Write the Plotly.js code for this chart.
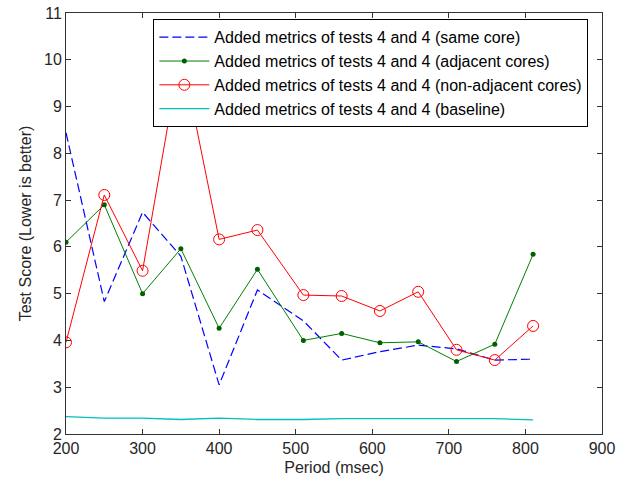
<!DOCTYPE html>
<html>
<head>
<meta charset="utf-8">
<script src="https://cdn.plot.ly/plotly-3.0.1.min.js"></script>
<style>html,body{margin:0;padding:0;background:#fff;}#chart{width:626px;height:483px;}</style>
</head>
<body>
<div id="chart"></div>
<script>
// Period (msec)
const periods = [200, 250, 300, 350, 400, 450, 510, 560, 610, 660, 710, 760, 810];
// Test scores (lower is better)
const sameCore = [8.44, 4.83, 6.74, 5.80, 3.05, 5.08, 4.42, 3.58, 3.76, 3.90, 3.82, 3.58, 3.60];
const adjacentCores = [6.10, 6.90, 5.00, 5.96, 4.26, 5.52, 4.00, 4.15, 3.95, 3.97, 3.55, 3.92, 5.84];
const nonAdjacentCores = [3.96, 7.11, 5.49, 10.2, 6.16, 6.36, 4.97, 4.95, 4.63, 5.04, 3.80, 3.58, 4.31];
const baseline = [2.37, 2.34, 2.34, 2.31, 2.34, 2.31, 2.31, 2.33, 2.33, 2.33, 2.33, 2.33, 2.30];
const seriesNames = [
  "Added metrics of tests 4 and 4 (same core)",
  "Added metrics of tests 4 and 4 (adjacent cores)",
  "Added metrics of tests 4 and 4 (non-adjacent cores)",
  "Added metrics of tests 4 and 4 (baseline)"
];
const xTicks = [200, 300, 400, 500, 600, 700, 800, 900];
const yTicks = [2, 3, 4, 5, 6, 7, 8, 9, 10, 11];

const traces = [
  {x: periods, y: sameCore, name: seriesNames[0], legendgroup: "a", mode: "lines",
   line: {color: "#0000ff", width: 1.2, dash: "9px,4px"}},
  {x: periods, y: adjacentCores, name: seriesNames[1], legendgroup: "b", mode: "lines+markers",
   line: {color: "#007f00", width: 1}, marker: {color: "#006000", size: 5, symbol: "circle"}},
  {x: periods, y: nonAdjacentCores, name: seriesNames[2], legendgroup: "c", mode: "lines+markers",
   line: {color: "#ff0000", width: 1}, marker: {color: "#ff0000", size: 11, symbol: "circle-open", line: {color: "#ff0000", width: 1}}},
  {x: periods, y: baseline, name: seriesNames[3], legendgroup: "d", mode: "lines",
   line: {color: "#00bfbf", width: 1.3}}
];

const fam = "Liberation Sans, Arial, sans-serif";
const axisFont = {family: fam, size: 16, color: "#262626"};
const layout = {
  width: 626, height: 483,
  margin: {l: 66, r: 24, t: 13, b: 49, pad: 0},
  paper_bgcolor: "#ffffff", plot_bgcolor: "#ffffff",
  showlegend: true,
  legend: {x: 0.163, y: 0.985, xanchor: "left", yanchor: "top",
    bgcolor: "#ffffff", bordercolor: "#000000", borderwidth: 1,
    font: {family: fam, size: 16, color: "#000"},
    itemwidth: 50, tracegroupgap: 0},
  xaxis: {range: [200, 900], tickvals: xTicks, ticktext: xTicks.map(String),
    ticks: "inside", ticklen: 5, tickcolor: "#333", showline: true, linecolor: "#333", linewidth: 1,
    mirror: "ticks", showgrid: false, zeroline: false, tickfont: axisFont,
    title: {text: "Period (msec)", font: {family: fam, size: 16, color: "#262626"}, standoff: 5}},
  yaxis: {range: [2, 11], tickvals: yTicks, ticktext: yTicks.map(String),
    ticks: "inside", ticklen: 5, tickcolor: "#333", showline: true, linecolor: "#333", linewidth: 1,
    mirror: "ticks", showgrid: false, zeroline: false, tickfont: axisFont,
    title: {text: "Test Score (Lower is better)", font: {family: fam, size: 16, color: "#262626"}, standoff: 8}}
};

Plotly.newPlot("chart", traces, layout, {displayModeBar: false, staticPlot: true});
</script>
</body>
</html>
